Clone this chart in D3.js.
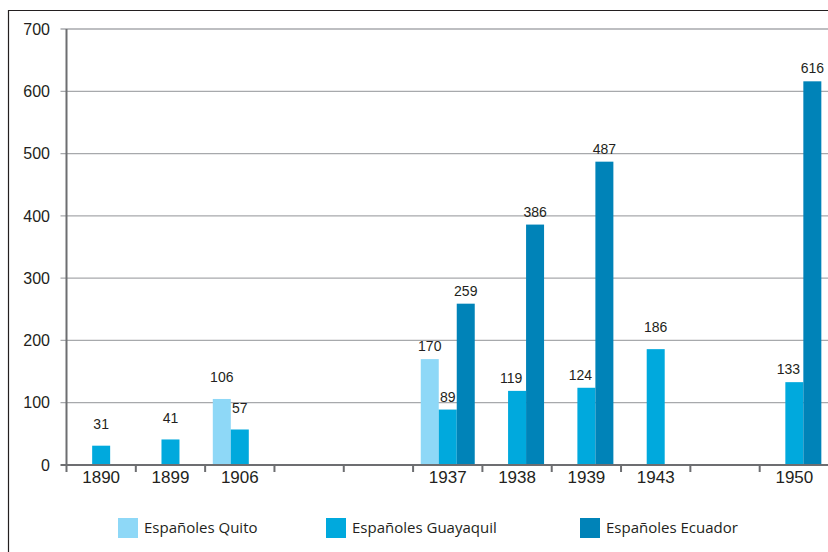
<!DOCTYPE html>
<html>
<head>
<meta charset="utf-8">
<script src="https://cdn.jsdelivr.net/npm/d3@7"></script>
<style>
  html, body { margin: 0; padding: 0; background: #fff; }
  svg { display: block; }
</style>
</head>
<body>
<div id="chart"></div>
<script>
'use strict';

const years = ['1890', '1899', '1906', 'gap1', 'gap2', '1937', '1938', '1939', '1943', 'gap3', '1950'];
const series = ['Españoles Quito', 'Españoles Guayaquil', 'Españoles Ecuador'];
const quito = [null, null, 106, null, null, 170, null, null, null, null, null];
const guayaquil = [31, 41, 57, null, null, 89, 119, 124, 186, null, 133];
const ecuador = [null, null, null, null, null, 259, 386, 487, null, null, 616];
const yTicks = [0, 100, 200, 300, 400, 500, 600, 700];
const colors = ['#8ed8f7', '#00a9dd', '#0083b8'];

const width = 828;
const height = 552;
const margin = {top: 29, right: -1, bottom: 87, left: 66.5};

const svg = d3.select('#chart').append('svg')
    .attr('width', width)
    .attr('height', height);

// frame
svg.append('line')
    .attr('x1', 8.5).attr('x2', width).attr('y1', 10.5).attr('y2', 10.5)
    .attr('stroke', '#231f20').attr('stroke-width', 1.2);
svg.append('line')
    .attr('x1', 8.5).attr('x2', 8.5).attr('y1', 10).attr('y2', height)
    .attr('stroke', '#231f20').attr('stroke-width', 1.2);

const x0 = d3.scaleBand()
    .domain(years)
    .range([margin.left, width - margin.right])
    .padding(0);

const x1 = d3.scaleBand()
    .domain(series)
    .range([0, x0.bandwidth()])
    .paddingInner(0)
    .paddingOuter(0.426);

const y = d3.scaleLinear()
    .domain([0, 700])
    .range([height - margin.bottom, margin.top]);

// gridlines
svg.append('g')
    .selectAll('line')
    .data(yTicks.filter(d => d > 0))
    .join('line')
    .attr('x1', margin.left - 6)
    .attr('x2', width)
    .attr('y1', d => y(d))
    .attr('y2', d => y(d))
    .attr('stroke', '#a7a9ac')
    .attr('stroke-width', 1.3);

// y tick labels
svg.append('g')
    .selectAll('text')
    .data(yTicks)
    .join('text')
    .attr('x', 50)
    .attr('y', d => y(d))
    .attr('dy', '0.36em')
    .attr('text-anchor', 'end')
    .attr('font-family', 'Liberation Sans, Arial, sans-serif')
    .attr('font-size', 16)
    .attr('fill', '#231f20')
    .text(d => d);

// bars
const rows = years.map((yr, i) => ({year: yr, values: [quito[i], guayaquil[i], ecuador[i]]}));
const barData = [];
rows.forEach(r => {
    r.values.forEach((v, k) => {
        if (v !== null) {
            barData.push({year: r.year, key: series[k], k: k, value: v, row: r});
        }
    });
});

svg.append('g')
    .selectAll('rect')
    .data(barData)
    .join('rect')
    .attr('x', d => x0(d.year) + x1(d.key))
    .attr('y', d => y(d.value))
    .attr('width', x1.bandwidth())
    .attr('height', d => y(0) - y(d.value))
    .attr('fill', d => colors[d.k]);

// value labels
svg.append('g')
    .selectAll('text')
    .data(barData)
    .join('text')
    .attr('x', d => {
        let cx = x0(d.year) + x1(d.key) + x1.bandwidth() / 2;
        // Guayaquil label nudged left when a taller Ecuador bar stands next to it
        if (d.k === 1 && d.row.values[2] !== null && d.row.values[0] === null) cx -= 6;
        return cx;
    })
    .attr('y', d => y(d.value) - (d.row.values[2] === null ? 22 : 13))
    .attr('dy', '0.36em')
    .attr('text-anchor', 'middle')
    .attr('font-family', 'Liberation Sans, Arial, sans-serif')
    .attr('font-size', 14)
    .attr('fill', '#231f20')
    .text(d => d.value);

// axes lines
const axisColor = '#6d6e71';
svg.append('line')
    .attr('x1', margin.left).attr('x2', margin.left)
    .attr('y1', margin.top).attr('y2', y(0) + 7)
    .attr('stroke', axisColor).attr('stroke-width', 2);
svg.append('line')
    .attr('x1', margin.left - 6).attr('x2', width)
    .attr('y1', y(0)).attr('y2', y(0))
    .attr('stroke', axisColor).attr('stroke-width', 2.2);

// x category boundary ticks
svg.append('g')
    .selectAll('line')
    .data(years.slice(1))
    .join('line')
    .attr('x1', d => x0(d))
    .attr('x2', d => x0(d))
    .attr('y1', y(0))
    .attr('y2', y(0) + 7)
    .attr('stroke', axisColor)
    .attr('stroke-width', 2);

// x labels
svg.append('g')
    .selectAll('text')
    .data(years.filter(d => !d.startsWith('gap')))
    .join('text')
    .attr('x', d => x0(d) + x0.bandwidth() / 2)
    .attr('y', y(0) + 12)
    .attr('dy', '0.36em')
    .attr('text-anchor', 'middle')
    .attr('font-family', 'Liberation Sans, Arial, sans-serif')
    .attr('font-size', 17)
    .attr('fill', '#231f20')
    .text(d => d);

// legend
const legendX = [118, 326, 580];
const legend = svg.append('g')
    .selectAll('g')
    .data(series)
    .join('g')
    .attr('transform', (d, i) => `translate(${legendX[i]},518)`);
legend.append('rect')
    .attr('width', 20)
    .attr('height', 20)
    .attr('fill', (d, i) => colors[i]);
legend.append('text')
    .attr('x', 26)
    .attr('y', 10)
    .attr('dy', '0.36em')
    .attr('font-family', 'Open Sans, Noto Sans, sans-serif')
    .attr('font-size', 15)
    .attr('fill', '#231f20')
    .text(d => d);
</script>
</body>
</html>
